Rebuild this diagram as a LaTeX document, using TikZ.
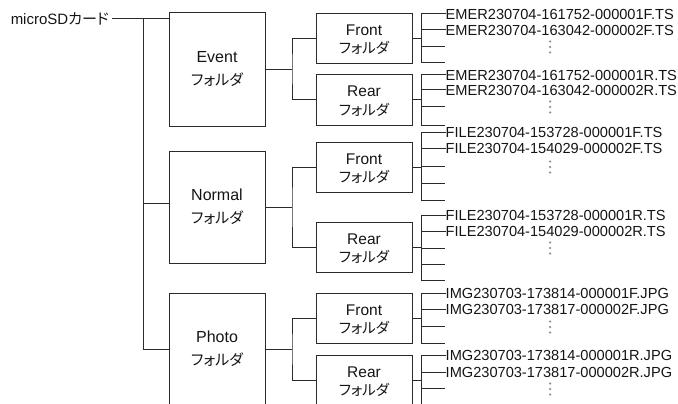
\documentclass[tikz,border=0pt]{standalone}
\usepackage{fontspec}
\setmainfont{Liberation Sans}
\newfontfamily\jp[RawFeature=+palt]{Noto Sans CJK JP}
\definecolor{linec}{HTML}{2B2B2B}
\definecolor{textc}{HTML}{141414}
\definecolor{dotc}{HTML}{909090}
\tikzset{
  conn/.style={draw=linec, line width=1pt},
  bigbox/.style={draw=linec, line width=1pt, minimum width=96pt, minimum height=113pt, inner sep=0pt},
  subbox/.style={draw=linec, line width=1pt, minimum width=96pt, minimum height=50pt, inner sep=0pt},
  lbl/.style={text=textc, inner sep=0pt, font=\fontsize{16}{16}\selectfont},
  jlbl/.style={text=textc, inner sep=0pt, font=\fontsize{15}{15}\selectfont\jp},
  slbl/.style={text=textc, inner sep=0pt, font=\fontsize{15.5}{15.5}\selectfont},
  sjlbl/.style={text=textc, inner sep=0pt, font=\fontsize{14.5}{14.5}\selectfont\jp},
  file/.style={text=textc, inner sep=0pt, anchor=west, font=\fontsize{14.6}{14.6}\selectfont},
}
\newcommand{\subfolder}[3]{%
  \node[subbox] (#1) at (364,#2) {};
  \node[slbl] (#1t) at (364,#2-8.5) {#3};
  \node[sjlbl] (#1j) at (364,#2+9.5) {フォルダ};
}
\newcommand{\filegroup}[9]{%
  \coordinate (#1v) at (421,#2);
  \coordinate (#1w) at (421,#3);
  \draw[conn] (#1v) -- (#1w);
  \draw[conn] (#1.east) -- (#1.east -| #1v);
  \node[file] (#1a) at (445.5,#5) {#6};
  \node[file] (#1b) at (445.5,#7) {#8};
  \draw[conn] (#1a.west -| #1v) -- (#1a.west);
  \draw[conn] (#1b.west -| #1v) -- (#1b.west);
  \foreach \yy [count=\k] in {#4} {
    \coordinate (#1e\k) at (445,\yy);
    \draw[conn] (421,\yy) -- (#1e\k);
  }
  \foreach \d in {-5.5,0,5.5} \fill[dotc] (550,#9+\d) circle (1.25pt);
}
\begin{document}
\begin{tikzpicture}[x=1pt,y=-1pt]
\useasboundingbox (0,0) rectangle (678,404);
\clip (0,0) rectangle (678,404);

% root
\node[text=textc, inner sep=0pt, anchor=east, font=\fontsize{15}{15}\selectfont] (ms) at (109,19) {microSD{\jp カード}};

% top-level folders
\node[bigbox] (event) at (217,69.5) {};
\node[lbl] (eventt) at (217,57) {Event};
\node[jlbl] (eventj) at (217,80) {フォルダ};

\node[bigbox, minimum height=112pt] (normal) at (217,207) {};
\node[lbl] (normalt) at (217,195) {Normal};
\node[jlbl] (normalj) at (217,218) {フォルダ};

\node[bigbox] (photo) at (217,349.5) {};
\node[lbl] (photot) at (217,337) {Photo};
\node[jlbl] (photoj) at (217,360) {フォルダ};

% trunk
\coordinate (t0) at (143,19);
\coordinate (tn) at (143,203);
\coordinate (tp) at (143,349);
\draw[conn] ([xshift=3pt]ms.east) -- (ms.east -| event.west);
\draw[conn] (t0) -- (tp);
\draw[conn] (tn) -- (tn -| normal.west);
\draw[conn] (tp) -- (tp -| photo.west);

% sub folders
\subfolder{ef}{38.5}{Front}
\subfolder{er}{100}{Rear}
\subfolder{nf}{167.5}{Front}
\subfolder{nr}{247.5}{Rear}
\subfolder{pf}{318.5}{Front}
\subfolder{pr}{380.5}{Rear}

% branches from top-level to sub folders
\coordinate (be) at (292,69.5);
\draw[conn] (event.east) -- (be);
\draw[conn] (ef.west) -| (be) |- (er.west);
\coordinate (bn) at (292,207);
\draw[conn] (normal.east) -- (bn);
\draw[conn] (nf.west) -| (bn) |- (nr.west);
\coordinate (bp) at (292,349.5);
\draw[conn] (photo.east) -- (bp);
\draw[conn] (pf.west) -| (bp) |- (pr.west);

% file lists
\filegroup{ef}{14}{63}{47,63}{14}{EMER230704-161752-000001F.TS}{30}{EMER230704-163042-000002F.TS}{47}
\filegroup{er}{75}{125}{107,125}{75}{EMER230704-161752-000001R.TS}{90}{EMER230704-163042-000002R.TS}{107}
\filegroup{nf}{132}{200}{166,183,200}{132}{FILE230704-153728-000001F.TS}{148}{FILE230704-154029-000002F.TS}{167}
\filegroup{nr}{215}{280}{248,264,280}{215}{FILE230704-153728-000001R.TS}{231}{FILE230704-154029-000002R.TS}{248}
\filegroup{pf}{293}{343}{326,343}{293}{IMG230703-173814-000001F.JPG}{309}{IMG230703-173817-000002F.JPG}{327}
\filegroup{pr}{355}{412}{388,405}{355}{IMG230703-173814-000001R.JPG}{372}{IMG230703-173817-000002R.JPG}{389}
\end{tikzpicture}
\end{document}
